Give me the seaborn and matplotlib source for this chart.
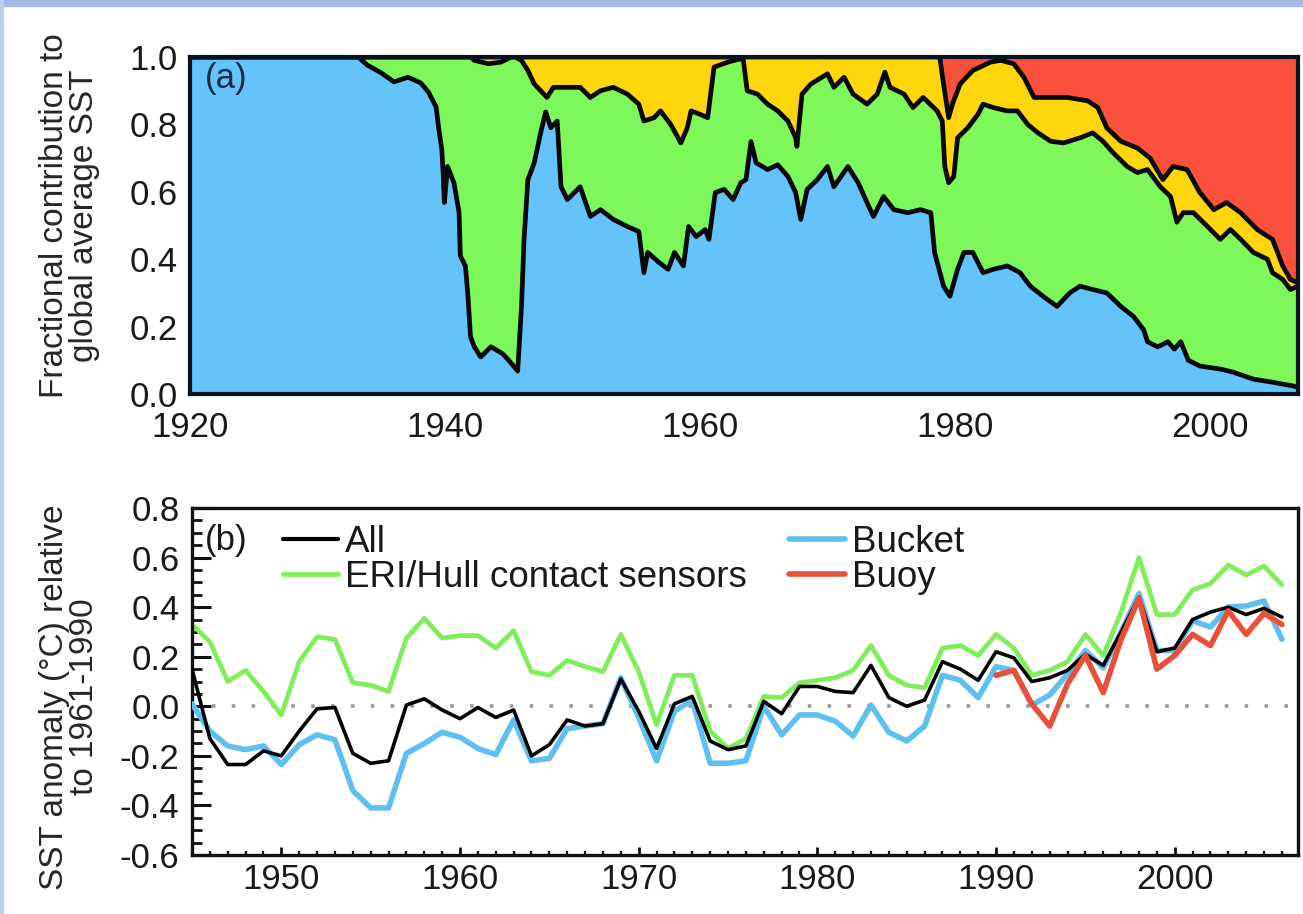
import matplotlib
matplotlib.use("Agg")
import matplotlib.pyplot as plt
from matplotlib.patches import Rectangle
from matplotlib.lines import Line2D
from matplotlib.ticker import MultipleLocator, FormatStrFormatter
import numpy as np
import pandas as pd
import seaborn as sns

# ---------------------------------------------------------------------------
# (a) Cumulative fractional contribution of each measurement type
#     (upper edge of each stacked band)
# ---------------------------------------------------------------------------
bucket_top_year = [1920, 1933.2, 1933.9, 1935.0, 1936.0, 1937.1, 1938.1, 1938.7,
                   1939.3, 1939.5, 1939.75, 1939.85, 1939.95, 1940.2, 1940.7,
                   1941.1, 1941.2, 1941.6, 1941.8, 1942.0, 1942.3, 1942.8,
                   1943.6, 1944.5, 1945.0, 1945.7, 1946.0, 1946.2, 1946.5,
                   1947.0, 1947.5, 1947.9, 1948.3, 1948.8, 1949.1, 1949.6,
                   1950.6, 1951.4, 1952.2, 1953.2, 1954.3, 1955.2, 1955.6,
                   1955.9, 1956.7, 1957.5, 1958.0, 1958.7, 1959.1, 1959.7,
                   1960.4, 1960.7, 1961.2, 1961.9, 1962.6, 1963.2, 1963.6,
                   1964.0, 1964.4, 1965.3, 1966.1, 1966.9, 1967.5, 1967.9,
                   1968.4, 1969.2, 1970.0, 1970.5, 1971.6, 1972.4, 1973.1,
                   1973.6, 1974.4, 1975.2, 1976.3, 1977.3, 1978.1, 1978.4,
                   1979.1, 1979.6, 1980.2, 1980.7, 1981.4, 1982.2, 1983.0,
                   1984.1, 1985.1, 1985.9, 1986.9, 1988.0, 1989.0, 1989.8,
                   1990.8, 1991.9, 1993.0, 1994.0, 1994.8, 1995.1, 1995.9,
                   1996.7, 1997.2, 1997.7, 1998.3, 1999.2, 2000.8, 2001.8,
                   2003.4, 2004.9, 2006.5, 2006.9]
bucket_top_frac = [1.0, 1.0, 0.976, 0.953, 0.926, 0.94, 0.923, 0.896,
                   0.852, 0.79, 0.725, 0.657, 0.568, 0.675, 0.627,
                   0.54, 0.41, 0.38, 0.29, 0.17, 0.14, 0.11,
                   0.14, 0.12, 0.10, 0.068, 0.26, 0.46, 0.636,
                   0.686, 0.775, 0.837, 0.79, 0.81, 0.615, 0.577,
                   0.615, 0.527, 0.547, 0.518, 0.497, 0.482, 0.36,
                   0.42, 0.393, 0.37, 0.42, 0.38, 0.497, 0.467,
                   0.488, 0.459, 0.598, 0.607, 0.577, 0.627, 0.636,
                   0.749, 0.686, 0.666, 0.68, 0.645, 0.598, 0.518,
                   0.607, 0.636, 0.675, 0.615, 0.675, 0.627, 0.568,
                   0.527, 0.586, 0.547, 0.538, 0.547, 0.538, 0.42,
                   0.32, 0.29, 0.37, 0.42, 0.42, 0.36, 0.37,
                   0.38, 0.36, 0.32, 0.29, 0.26, 0.30, 0.32,
                   0.31, 0.30, 0.26, 0.23, 0.19, 0.155, 0.14,
                   0.155, 0.133, 0.155, 0.10, 0.083, 0.074, 0.065,
                   0.044, 0.035, 0.024, 0.02]

hull_top_year = [1920, 1942.0, 1942.3, 1943.4, 1944.4, 1945.2, 1945.5, 1946.0,
                 1946.5, 1947.0, 1947.5, 1948.0, 1948.5, 1949.6, 1950.6,
                 1951.4, 1952.2, 1953.2, 1954.3, 1955.2, 1955.6, 1956.4,
                 1956.9, 1957.7, 1958.5, 1959.0, 1959.3, 1960.0, 1960.6,
                 1961.1, 1962.2, 1963.2, 1963.4, 1963.7, 1964.5, 1965.3,
                 1966.1, 1966.9, 1967.5, 1967.6, 1968.0, 1968.7, 1970.0,
                 1970.5, 1971.3, 1972.0, 1973.1, 1973.9, 1974.5, 1974.9,
                 1976.0, 1976.7, 1977.5, 1978.6, 1979.0, 1979.2, 1979.5,
                 1979.9, 1980.2, 1981.0, 1981.8, 1982.2, 1983.0, 1984.1,
                 1984.9, 1985.7, 1986.5, 1987.5, 1988.5, 1989.8, 1990.8,
                 1991.6, 1992.4, 1993.5, 1994.3, 1995.1, 1996.1, 1996.9,
                 1997.4, 1997.9, 1998.7, 1999.8, 2000.8, 2001.6, 2002.4,
                 2003.4, 2004.5, 2004.9, 2005.7, 2006.3, 2006.9]
hull_top_frac = [1.0, 1.0, 0.99, 0.98, 0.985, 1.0, 1.0, 0.99,
                 0.96, 0.92, 0.90, 0.88, 0.91, 0.91, 0.91,
                 0.88, 0.90, 0.91, 0.89, 0.86, 0.81, 0.82,
                 0.84, 0.80, 0.745, 0.79, 0.84, 0.83, 0.82,
                 0.97, 0.985, 0.995, 0.99, 0.90, 0.89, 0.86,
                 0.84, 0.81, 0.76, 0.735, 0.89, 0.92, 0.95,
                 0.91, 0.94, 0.89, 0.86, 0.89, 0.955, 0.91,
                 0.89, 0.85, 0.88, 0.84, 0.81, 0.675, 0.627,
                 0.645, 0.76, 0.79, 0.83, 0.86, 0.85, 0.84,
                 0.84, 0.80, 0.775, 0.75, 0.745, 0.76, 0.775,
                 0.75, 0.716, 0.675, 0.657, 0.666, 0.615, 0.586,
                 0.51, 0.538, 0.538, 0.497, 0.459, 0.488, 0.459,
                 0.42, 0.40, 0.36, 0.34, 0.31, 0.32]

unknown_top_year = [1920, 1978.8, 1979.1, 1979.5, 1979.8, 1980.4, 1981.4, 1982.8,
                    1983.6, 1984.6, 1985.4, 1986.2, 1987.5, 1988.8, 1990.4,
                    1991.2, 1991.9, 1993.0, 1994.3, 1995.3, 1996.3, 1997.1,
                    1998.2, 1999.2, 2000.3, 2001.3, 2002.4, 2003.7, 2004.9,
                    2005.7, 2006.3, 2006.9]
unknown_top_frac = [1.0, 1.0, 0.92, 0.82, 0.86, 0.92, 0.96, 0.985,
                    0.99, 0.98, 0.94, 0.88, 0.88, 0.88, 0.87,
                    0.85, 0.79, 0.75, 0.73, 0.70, 0.636, 0.675,
                    0.666, 0.598, 0.547, 0.568, 0.538, 0.488, 0.459,
                    0.38, 0.34, 0.33]

# ---------------------------------------------------------------------------
# (b) Annual SST anomalies (degC, relative to 1961-1990)
# ---------------------------------------------------------------------------
years = list(range(1945, 2007))
sst_all = [0.15, -0.13, -0.235, -0.235, -0.18, -0.20, -0.10, -0.01, -0.005, -0.19,
           -0.23, -0.22, 0.005, 0.03, -0.015, -0.05, -0.005, -0.045, -0.015, -0.20,
           -0.155, -0.055, -0.08, -0.07, 0.11, -0.02, -0.17, 0.01, 0.04, -0.14,
           -0.175, -0.16, 0.02, -0.03, 0.08, 0.08, 0.06, 0.055, 0.165, 0.035,
           0.0, 0.025, 0.18, 0.15, 0.105, 0.22, 0.195, 0.10, 0.115, 0.145,
           0.21, 0.165, 0.30, 0.44, 0.22, 0.235, 0.35, 0.38, 0.40, 0.37,
           0.395, 0.36]
sst_hull = [0.33, 0.26, 0.10, 0.145, 0.06, -0.035, 0.18, 0.28, 0.27, 0.095,
            0.085, 0.06, 0.275, 0.355, 0.275, 0.285, 0.285, 0.235, 0.305, 0.14,
            0.125, 0.185, 0.16, 0.14, 0.29, 0.14, -0.075, 0.125, 0.125, -0.10,
            -0.17, -0.13, 0.04, 0.035, 0.095, 0.105, 0.115, 0.145, 0.245, 0.125,
            0.085, 0.075, 0.235, 0.245, 0.205, 0.29, 0.235, 0.125, 0.145, 0.18,
            0.29, 0.205, 0.38, 0.60, 0.37, 0.37, 0.47, 0.495, 0.57, 0.53,
            0.565, 0.49]
sst_bucket = [0.01, -0.10, -0.16, -0.175, -0.16, -0.235, -0.155, -0.115, -0.135, -0.34,
              -0.41, -0.41, -0.19, -0.15, -0.105, -0.125, -0.17, -0.195, -0.055, -0.22,
              -0.21, -0.09, -0.08, -0.07, 0.115, -0.045, -0.22, -0.02, 0.025, -0.23,
              -0.23, -0.22, 0.0, -0.115, -0.035, -0.035, -0.06, -0.12, 0.005, -0.105,
              -0.14, -0.08, 0.125, 0.105, 0.035, 0.16, 0.145, 0.005, 0.045, 0.13,
              0.225, 0.155, 0.30, 0.455, 0.225, 0.225, 0.345, 0.32, 0.40, 0.405,
              0.425, 0.27]
buoy_years = list(range(1990, 2007))
sst_buoy = [0.125, 0.145, 0.01, -0.08, 0.09, 0.205, 0.055, 0.27, 0.435, 0.15,
            0.205, 0.29, 0.245, 0.385, 0.29, 0.375, 0.33]

# ---------------------------------------------------------------------------
# Style
# ---------------------------------------------------------------------------
sns.set_theme(style="white")
plt.rcParams["font.family"] = ["Liberation Sans", "DejaVu Sans"]
plt.rcParams["axes.unicode_minus"] = False
plt.rcParams["text.color"] = "#1a1a1a"

C_BUCKET_FILL = "#64c4fa"
C_HULL_FILL = "#7df75a"
C_UNKNOWN_FILL = "#ffd60a"
C_BUOY_FILL = "#fa503c"

C_ALL = "#000000"
C_HULL = "#80ee5a"
C_BUCKET = "#5ebff0"
C_BUOY = "#ea4f3a"

FS = 25
W, H = 1303, 914
fig = plt.figure(figsize=(W / 100, H / 100), dpi=100)
fig.patch.set_facecolor("white")

# Thin coloured frame along the top and left edges
fig.add_artist(Rectangle((0, 1 - 6 / H), 1, 6 / H, transform=fig.transFigure,
                         color="#a6b9e5", zorder=10))
fig.add_artist(Rectangle((0, 0), 3 / W, 1, transform=fig.transFigure,
                         color="#bfcdef", zorder=10))

ax1 = fig.add_axes([190 / W, 1 - 394 / H, (1298 - 190) / W, (394 - 57) / H])
ax2 = fig.add_axes([192 / W, 1 - 855 / H, (1298 - 192) / W, (855 - 508) / H])

# ---------------------------------------------------------------------------
# Panel (a): stacked fractions
# ---------------------------------------------------------------------------
ax1.fill_between([1920, 2010], 0, 1, color=C_BUOY_FILL, lw=0, zorder=1)
ax1.fill_between(unknown_top_year, 0, unknown_top_frac, color=C_UNKNOWN_FILL, lw=0, zorder=1.1)
ax1.fill_between(hull_top_year, 0, hull_top_frac, color=C_HULL_FILL, lw=0, zorder=1.2)
ax1.fill_between(bucket_top_year, 0, bucket_top_frac, color=C_BUCKET_FILL, lw=0, zorder=1.3)

edge = pd.concat([
    pd.DataFrame({"year": unknown_top_year, "frac": unknown_top_frac, "edge": "unknown"}),
    pd.DataFrame({"year": hull_top_year, "frac": hull_top_frac, "edge": "hull"}),
    pd.DataFrame({"year": bucket_top_year, "frac": bucket_top_frac, "edge": "bucket"}),
])
for name, grp in edge.groupby("edge", sort=False):
    sns.lineplot(data=grp, x="year", y="frac", ax=ax1, color="#080808", lw=3.4,
                 estimator=None, sort=False, legend=False, zorder=2,
                 solid_joinstyle="round")

ax1.set_xlim(1920, 2006.9)
ax1.set_ylim(0, 1)
ax1.set_xticks([1920, 1940, 1960, 1980, 2000])
ax1.set_yticks(np.arange(0, 1.01, 0.2))
ax1.yaxis.set_major_formatter(FormatStrFormatter("%.1f"))
ax1.tick_params(axis="both", which="both", length=0, labelsize=FS, colors="#1a1a1a")
ax1.tick_params(axis="y", pad=9)
ax1.tick_params(axis="x", pad=12)
ax1.set_xlabel("")
ax1.set_ylabel("Fractional contribution to\nglobal average SST", fontsize=24,
               linespacing=0.95)
ax1.yaxis.set_label_coords(-0.081, 0.53)
for s in ax1.spines.values():
    s.set_linewidth(3.0)
    s.set_color("#0a1420")
    s.set_zorder(5)
ax1.text(0.0135, 0.935, "(a)", transform=ax1.transAxes, fontsize=FS,
         ha="left", va="center", color="#1a2a4a", zorder=6)

# ---------------------------------------------------------------------------
# Panel (b): anomaly time series
# ---------------------------------------------------------------------------
ax2.axhline(0, color="#999999", lw=2.6, ls=(0, (1, 4.5)), zorder=1)

sns.lineplot(x=years, y=sst_hull, ax=ax2, color=C_HULL, lw=3.4, legend=False,
             estimator=None, zorder=2)
sns.lineplot(x=years, y=sst_bucket, ax=ax2, color=C_BUCKET, lw=4.0, legend=False,
             estimator=None, zorder=3)
sns.lineplot(x=years, y=sst_all, ax=ax2, color=C_ALL, lw=2.6, legend=False,
             estimator=None, zorder=4)
sns.lineplot(x=buoy_years, y=sst_buoy, ax=ax2, color=C_BUOY, lw=4.0, legend=False,
             estimator=None, zorder=5)

ax2.set_xlim(1945, 2006.9)
ax2.set_ylim(-0.6, 0.8)
ax2.set_xticks(range(1950, 2001, 10))
ax2.xaxis.set_minor_locator(MultipleLocator(1))
ax2.set_yticks(np.arange(-0.6, 0.81, 0.2))
ax2.yaxis.set_minor_locator(MultipleLocator(0.05))
ax2.yaxis.set_major_formatter(FormatStrFormatter("%.1f"))
ax2.tick_params(axis="both", which="both", direction="in", colors="#111111",
                labelsize=FS, labelcolor="#1a1a1a")
ax2.tick_params(axis="y", which="major", length=14, width=2.2, pad=9)
ax2.tick_params(axis="y", which="minor", length=7, width=2.0)
ax2.tick_params(axis="x", which="major", length=6, width=2.0, pad=6)
ax2.tick_params(axis="x", which="minor", length=3, width=1.6)
ax2.tick_params(left=True, bottom=True, top=False, right=False)
ax2.tick_params(which="minor", left=True, bottom=True, top=False, right=False)
ax2.set_xlabel("")
ax2.set_ylabel("SST anomaly (\u00b0C) relative\nto 1961-1990", fontsize=24,
               linespacing=0.95)
ax2.yaxis.set_label_coords(-0.083, 0.455)
for s in ax2.spines.values():
    s.set_linewidth(2.4)
    s.set_color("#111111")
ax2.text(0.012, 0.905, "(b)", transform=ax2.transAxes, fontsize=FS,
         ha="left", va="center", color="#1a1a1a")

handles = [
    Line2D([], [], color=C_ALL, lw=3.0),
    Line2D([], [], color=C_HULL, lw=3.4),
    Line2D([], [], color=C_BUCKET, lw=4.0),
    Line2D([], [], color=C_BUOY, lw=4.0),
]
labels = ["All", "ERI/Hull contact sensors", "Bucket", "Buoy"]
ax2.legend(handles, labels, ncol=2, loc="upper left", bbox_to_anchor=(0.082, 0.95),
           frameon=False, fontsize=26.5, borderpad=0, borderaxespad=0,
           handlelength=1.5, handletextpad=0.2, columnspacing=1.15,
           labelspacing=0.0)

fig.savefig("out.png", dpi=100)
